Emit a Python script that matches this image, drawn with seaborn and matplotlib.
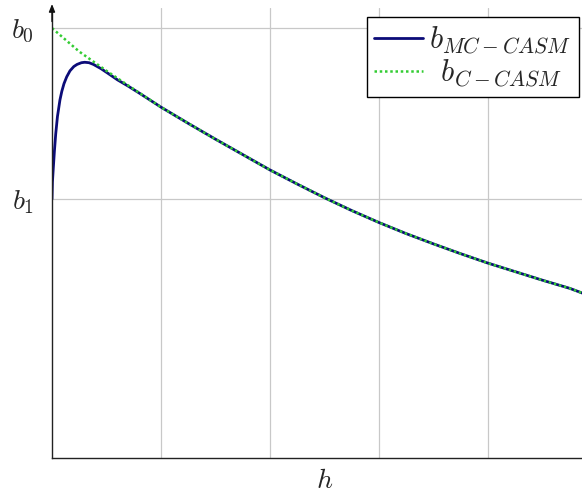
import matplotlib
matplotlib.use("Agg")
import matplotlib.pyplot as plt
import seaborn as sns
import pandas as pd

# ---- data ----
x_c = [0.0, 0.25, 0.5, 0.75, 1.0, 1.25, 1.5, 1.75, 2.0, 2.25, 2.5, 2.75, 3.0,
       3.25, 3.5, 3.75, 4.0, 4.25, 4.5, 4.75, 5.0]
b_c = [1.000, 0.945, 0.900, 0.857, 0.815, 0.777, 0.740, 0.704, 0.668, 0.635,
       0.603, 0.573, 0.545, 0.519, 0.495, 0.472, 0.450, 0.430, 0.410, 0.391, 0.367]

x_mc = [0.0, 0.004, 0.012, 0.022, 0.034, 0.05, 0.073, 0.09, 0.11, 0.135, 0.165,
        0.2, 0.23, 0.27, 0.30, 0.34, 0.38, 0.45, 0.52, 0.60, 0.70, 0.80, 1.0, 1.25,
        1.5, 1.75, 2.0, 2.25, 2.5, 2.75, 3.0, 3.25, 3.5, 3.75, 4.0, 4.25, 4.5, 4.75, 5.0]
b_mc = [0.600, 0.640, 0.673, 0.712, 0.752, 0.793, 0.832, 0.852, 0.870, 0.886, 0.900,
        0.910, 0.915, 0.919, 0.920, 0.919, 0.915, 0.905, 0.893, 0.879, 0.864, 0.848,
        0.815, 0.777, 0.740, 0.704, 0.668, 0.635, 0.603, 0.573, 0.545, 0.519, 0.495,
        0.472, 0.450, 0.430, 0.410, 0.391, 0.367]

x_ticks = [1, 2, 3, 4]
y_ticks = [0.6, 1.0]
y_ticklabels = [r"$b_1$", r"$b_0$"]
labels = [r"$b_{MC-CASM}$", r"$\;\,b_{C-CASM}$"]
x_label = r"$h$"

df_mc = pd.DataFrame({"h": x_mc, "b": b_mc})
df_c = pd.DataFrame({"h": x_c, "b": b_c})

sns.set_style("white")
plt.rcParams["mathtext.fontset"] = "cm"

W, H = 582, 495
fig = plt.figure(figsize=(W / 100, H / 100), dpi=100)
ax = fig.add_axes([52 / W, 1 - 458 / H, (597 - 52) / W, (458 - 8) / H])

sns.lineplot(data=df_mc, x="h", y="b", ax=ax, color="#0c0c78", linewidth=2.0,
             estimator=None, sort=False, label=labels[0])
sns.lineplot(data=df_c, x="h", y="b", ax=ax, color="#33cc33", linewidth=1.8,
             linestyle=(0, (1, 1.1)), estimator=None, sort=False, label=labels[1])

ax.set_xlim(0, 5)
ax.set_ylim(-0.006, 1.047)
ax.set_xticks(x_ticks)
ax.set_xticklabels([])
ax.set_yticks(y_ticks)
ax.set_yticklabels(y_ticklabels, fontsize=20)
ax.tick_params(axis="both", direction="inout", length=6, width=0.8,
               color="#555555", pad=3)
ax.tick_params(axis="y", pad=10)
ax.grid(True, color="#c8c8c8", linewidth=0.9)
ax.set_axisbelow(True)

for s in ["top", "right"]:
    ax.spines[s].set_visible(False)
for s in ["left", "bottom"]:
    ax.spines[s].set_color("#222222")
    ax.spines[s].set_linewidth(1.0)

ax.set_xlabel(x_label, fontsize=20, labelpad=0)
ax.set_ylabel("")

ax.annotate("", xy=(0, 1.0 + 4 / 450), xytext=(0, 0.97), xycoords="axes fraction",
            arrowprops=dict(arrowstyle="-|>,head_length=0.45,head_width=0.18",
                            color="#111111", lw=1.0, shrinkA=0, shrinkB=0))

leg = ax.legend(loc="upper right", bbox_to_anchor=(579 / W, 1 - 17 / H),
                bbox_transform=fig.transFigure, fontsize=22, frameon=True,
                fancybox=False, edgecolor="black", framealpha=1,
                handlelength=1.6, handletextpad=0.2, borderpad=0.25,
                labelspacing=0.05, borderaxespad=0)
leg.get_frame().set_linewidth(1.0)

fig.savefig("out.png", dpi=100)
